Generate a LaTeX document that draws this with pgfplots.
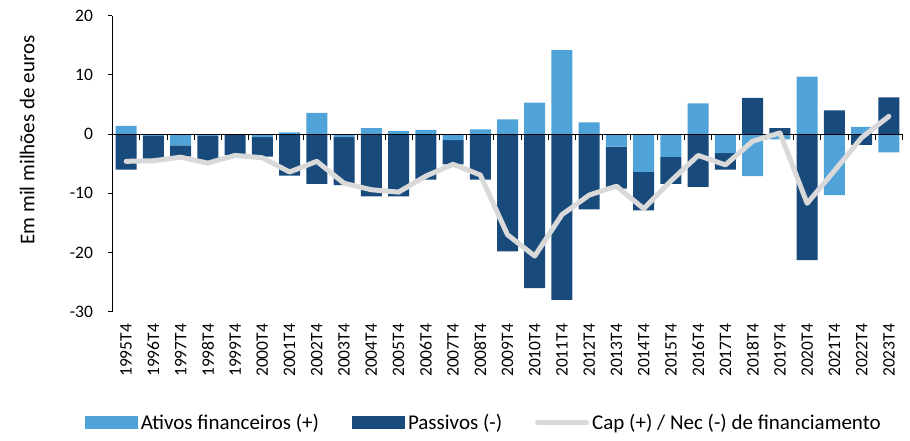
\documentclass[border=0pt]{standalone}
\usepackage{pgfplots}
\pgfplotsset{compat=1.18}
\usepackage{pgfplotstable}
\usepackage{fontspec}
\setmainfont{Carlito}
\definecolor{ativos}{RGB}{80,163,217}
\definecolor{passivos}{RGB}{24,74,124}
\definecolor{linha}{RGB}{217,217,217}

\pgfplotstableread{
x a p l
0 1.4 -6.0 -4.6
1 -0.3 -4.1 -4.5
2 -1.9 -1.9 -3.9
3 -0.3 -4.3 -4.9
4 -0.1 -3.4 -3.6
5 -0.5 -3.3 -4.0
6 0.3 -7.0 -6.4
7 3.6 -8.4 -4.6
8 -0.5 -8.1 -8.3
9 1.0 -10.5 -9.4
10 0.5 -10.5 -9.8
11 0.7 -7.7 -7.1
12 -1.0 -4.1 -5.1
13 0.8 -7.7 -6.9
14 2.5 -19.8 -17.0
15 5.3 -26.0 -20.6
16 14.2 -28.0 -13.6
17 2.0 -12.7 -10.3
18 -2.1 -7.1 -8.8
19 -6.4 -6.5 -12.6
20 -3.85 -4.55 -7.9
21 5.2 -8.9 -3.6
22 -3.2 -2.8 -5.2
23 -7.1 6.1 -1.2
24 -0.9 1.0 0.2
25 9.7 -21.3 -11.7
26 -10.3 4.0 -6.2
27 1.2 -1.8 -0.6
28 -3.1 6.2 3.0
}\data

\pgfplotsset{
  base/.style={at={(0,0)}, anchor=south west, scale only axis,
    width=790pt, height=296pt, xmin=-0.5, xmax=28.5, ymin=-30, ymax=20},
  barlegend/.style={legend image code/.code={\fill[##1] (0pt,-6.5pt) rectangle (53pt,6.5pt);}},
  linelegend/.style={legend image code/.code={\draw[##1] (0pt,0pt) -- (49pt,0pt);}},
}

\begin{document}
\begin{tikzpicture}
% positive parts
\begin{axis}[base, ybar stacked, bar width=21pt,
  axis x line*=bottom, axis y line*=left, axis line style={-, black, line width=0.8pt},
  x axis line style={draw=none},
  xtick={0,...,28},
  xticklabels={1995T4,1996T4,1997T4,1998T4,1999T4,2000T4,2001T4,2002T4,2003T4,2004T4,2005T4,2006T4,2007T4,2008T4,2009T4,2010T4,2011T4,2012T4,2013T4,2014T4,2015T4,2016T4,2017T4,2018T4,2019T4,2020T4,2021T4,2022T4,2023T4},
  x tick style={draw=none},
  xticklabel style={rotate=90, anchor=east, inner xsep=8pt},
  ytick={-30,-20,...,20},
  y tick style={black, line width=0.8pt},
  tick align=outside, major tick length=4pt,
  ticklabel style={font=\fontsize{17.5}{20}\selectfont},
  yticklabel style={xshift=-12pt},
  /pgf/number format/assume math mode=true,
  ylabel={Em mil milhões de euros},
  ylabel style={font=\fontsize{21}{24}\selectfont, at={(axis description cs:-0.108,0.58)}, anchor=center},
]
\addplot[fill=ativos, draw=none] table[x=x, y expr={max(\thisrow{a},0)}] {\data};
\addplot[fill=passivos, draw=none] table[x=x, y expr={max(\thisrow{p},0)}] {\data};
\end{axis}
% negative parts
\begin{axis}[base, ybar stacked, bar width=21pt, hide axis]
\addplot[fill=ativos, draw=none] table[x=x, y expr={min(\thisrow{a},0)}] {\data};
\addplot[fill=passivos, draw=none] table[x=x, y expr={min(\thisrow{p},0)}] {\data};
\end{axis}
% zero axis, line and legend
\begin{axis}[base, axis x line=middle, axis y line=none,
  axis line style={-, black, line width=0.8pt},
  xtick={0.5,1.5,...,28.5}, xticklabels={}, ytick=\empty,
  x tick style={black, line width=0.8pt},
  xtick align=outside, major tick length=6pt,
  legend style={at={(axis description cs:0.4706,-0.376)}, anchor=center,
    draw=none, fill=none, legend columns=3, inner sep=0pt,
    font=\fontsize{21}{24}\selectfont,
    nodes={inner xsep=3pt, inner ysep=1pt},
    /tikz/every even column/.append style={column sep=30pt}},
  legend cell align=left,
]
\addlegendimage{fill=ativos, draw=none, barlegend}
\addlegendentry{Ativos financeiros (+)}
\addlegendimage{fill=passivos, draw=none, barlegend}
\addlegendentry{Passivos (-)}
\addplot[linha, line width=5pt, line join=round, line cap=round, mark=none, linelegend]
  table[x=x, y=l] {\data};
\addlegendentry{Cap (+) / Nec (-) de financiamento}
\end{axis}
\pgfresetboundingbox
\path[use as bounding box] (-112.5pt,-129.3pt) rectangle (797.5pt,311.7pt);
\end{tikzpicture}
\end{document}
